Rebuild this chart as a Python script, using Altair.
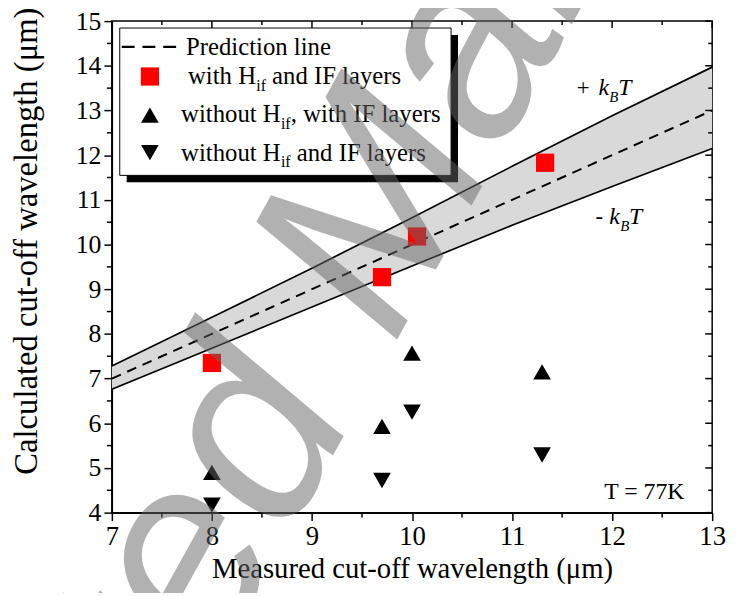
import altair as alt
import pandas as pd

# ---------------- data ----------------
sq_x = [8.0, 9.7, 10.05, 11.33]
sq_y = [7.35, 9.27, 10.18, 11.83]
up_x = [8.0, 9.7, 10.0, 11.3]
up_y = [4.9, 5.93, 7.57, 7.15]
dn_x = [8.0, 9.7, 10.0, 11.3]
dn_y = [4.17, 4.72, 6.25, 5.29]

band_x = [7, 8, 9, 10, 11, 12, 13]
band_upper = [7.28, 8.37, 9.47, 10.6, 11.75, 12.88, 13.97]
band_lower = [6.76, 7.68, 8.6, 9.52, 10.43, 11.3, 12.15]

pred_x = [7, 13]
pred_y = [7, 13]

x_major = [7, 8, 9, 10, 11, 12, 13]
x_minor = [7.5, 8.5, 9.5, 10.5, 11.5, 12.5]
y_major = [4, 5, 6, 7, 8, 9, 10, 11, 12, 13, 14, 15]
y_minor = [4.5, 5.5, 6.5, 7.5, 8.5, 9.5, 10.5, 11.5, 12.5, 13.5, 14.5]

x_title = "Measured cut-off wavelength (μm)"
y_title = "Calculated cut-off wavelength (μm)"
legend_pred = "Prediction line"
watermark = "Accepted Manuscript"

W, H = 607, 497
SERIF = "Liberation Serif, Times New Roman, serif"

xs = alt.Scale(domain=[7, 13], nice=False, zero=False)
ys = alt.Scale(domain=[4, 15], nice=False, zero=False)

xaxis = alt.Axis(values=x_major, format="d", tickSize=8, tickWidth=1.5, tickColor="black",
                 domainColor="black", domainWidth=1.5, grid=False, labelFlush=False,
                 labelFont=SERIF, labelFontSize=27, labelColor="black", labelPadding=3,
                 title=x_title, titleFont=SERIF, titleFontSize=29, titleFontWeight="normal",
                 titleColor="black", titlePadding=6)
yaxis = alt.Axis(values=y_major, format="d", tickSize=8, tickWidth=1.5, tickColor="black",
                 domainColor="black", domainWidth=1.5, grid=False, labelFlush=False,
                 labelFont=SERIF, labelFontSize=26, labelColor="black", labelPadding=3,
                 title=y_title, titleFont=SERIF, titleFontSize=33, titleFontWeight="normal",
                 titleColor="black", titlePadding=32, titleY=222)


def X(f):
    return alt.X(f, type="quantitative", scale=xs, axis=xaxis)


def Y(f):
    return alt.Y(f, type="quantitative", scale=ys, axis=yaxis)


band_df = pd.DataFrame({"x": band_x, "upper": band_upper, "lower": band_lower})
pred_df = pd.DataFrame({"x": pred_x, "y": pred_y})
sq_df = pd.DataFrame({"x": sq_x, "y": sq_y})
up_df = pd.DataFrame({"x": up_x, "y": up_y})
dn_df = pd.DataFrame({"x": dn_x, "y": dn_y})
xmaj_df = pd.DataFrame({"v": x_major})
xmin_df = pd.DataFrame({"v": x_minor})
ymaj_df = pd.DataFrame({"v": y_major})
ymin_df = pd.DataFrame({"v": y_minor})
one = pd.DataFrame({"a": [0]})

band = alt.Chart(band_df).mark_area(color="#d9d9d9", opacity=1).encode(
    x=X("x"), y=Y("upper"), y2="lower")
upper = alt.Chart(band_df).mark_line(color="black", strokeWidth=1.7).encode(x=X("x"), y=Y("upper"))
lower = alt.Chart(band_df).mark_line(color="black", strokeWidth=1.7).encode(x=X("x"), y=Y("lower"))
pred = alt.Chart(pred_df).mark_line(color="black", strokeWidth=2, strokeDash=[10, 7]).encode(
    x=X("x"), y=Y("y"))

squares = alt.Chart(sq_df).mark_point(shape="square", filled=True, color="#ff0000",
                                      size=340, opacity=1).encode(x=X("x"), y=Y("y"))
ups = alt.Chart(up_df).mark_point(shape="triangle-up", filled=True, color="black",
                                  size=320, opacity=1).encode(x=X("x"), y=Y("y"))
dns = alt.Chart(dn_df).mark_point(shape="triangle-down", filled=True, color="black",
                                  size=320, opacity=1).encode(x=X("x"), y=Y("y"))

rule = dict(color="black", strokeWidth=1.5)
bot_minor = alt.Chart(xmin_df).mark_rule(**rule).encode(x=X("v"), y=alt.value(H), y2=alt.value(H + 5))
left_minor = alt.Chart(ymin_df).mark_rule(**rule).encode(y=Y("v"), x=alt.value(0), x2=alt.value(-5))
top_major = alt.Chart(xmaj_df).mark_rule(**rule).encode(x=X("v"), y=alt.value(0), y2=alt.value(7))
top_minor = alt.Chart(xmin_df).mark_rule(**rule).encode(x=X("v"), y=alt.value(0), y2=alt.value(4))
right_major = alt.Chart(ymaj_df).mark_rule(**rule).encode(y=Y("v"), x=alt.value(W - 7), x2=alt.value(W))
right_minor = alt.Chart(ymin_df).mark_rule(**rule).encode(y=Y("v"), x=alt.value(W - 4), x2=alt.value(W))


def txt(s, x, y, size=25, style="normal", align="left", font=SERIF):
    return alt.Chart(pd.DataFrame({"t": [s]})).mark_text(
        font=font, fontSize=size, fontStyle=style, align=align, baseline="alphabetic",
        color="black").encode(x=alt.value(x), y=alt.value(y), text="t:N")


# legend box with shadow
shadow = alt.Chart(one).mark_rect(color="black").encode(
    x=alt.value(15), x2=alt.value(350), y=alt.value(14), y2=alt.value(163))
box = alt.Chart(one).mark_rect(fill="white", stroke="black", strokeWidth=1).encode(
    x=alt.value(8), x2=alt.value(343), y=alt.value(7), y2=alt.value(156))
leg_dash = alt.Chart(one).mark_rule(color="black", strokeWidth=2.2, strokeDash=[13, 8]).encode(
    x=alt.value(10), x2=alt.value(70), y=alt.value(26))
leg_sq = alt.Chart(one).mark_point(shape="square", filled=True, color="#ff0000", size=340,
                                   opacity=1).encode(x=alt.value(38.5), y=alt.value(56))
leg_up = alt.Chart(one).mark_point(shape="triangle-up", filled=True, color="black", size=320,
                                   opacity=1).encode(x=alt.value(38.5), y=alt.value(95))
leg_dn = alt.Chart(one).mark_point(shape="triangle-down", filled=True, color="black", size=320,
                                   opacity=1).encode(x=alt.value(38.5), y=alt.value(133))

legend_texts = [
    txt(legend_pred, 75, 34),
    txt("with H", 77, 64), txt("if", 146, 71, size=16), txt("and IF layers", 162, 64),
    txt("without H", 70, 102), txt("if", 171, 109, size=16), txt(", with IF layers", 181, 102),
    txt("without H", 70, 141), txt("if", 171, 148, size=16), txt("and IF layers", 187, 141),
]

kbt = [
    txt("+", 470, 75, size=23), txt("k", 492, 75, size=24, style="italic"),
    txt("B", 503, 82, size=15, style="italic"), txt("T", 512, 75, size=24, style="italic"),
    txt("-", 489, 205, size=23), txt("k", 503, 205, size=24, style="italic"),
    txt("B", 514, 212, size=15, style="italic"), txt("T", 523, 205, size=24, style="italic"),
    txt("T = 77K", 579, 483, size=24, align="right"),
]

wm = alt.Chart(pd.DataFrame({"t": [watermark]})).mark_text(
    font="Liberation Sans", fontSize=265, fontStyle="italic", align="center",
    baseline="middle", angle=299, color="#666666", opacity=0.5).encode(
    x=alt.value(243), y=alt.value(239), text="t:N")

chart = alt.layer(
    band, upper, lower, pred, squares, ups, dns,
    bot_minor, left_minor, top_major, top_minor, right_major, right_minor,
    shadow, box, leg_dash, leg_sq, leg_up, leg_dn, *legend_texts, *kbt, wm
).properties(
    width=W, height=H,
    autosize=alt.AutoSizeParams(type="none"),
    padding={"left": 105, "top": 10, "right": 16, "bottom": 78},
).configure_view(stroke="black", strokeWidth=1.5)

chart.save("out.html", embed_options={"renderer": "svg", "actions": False})
